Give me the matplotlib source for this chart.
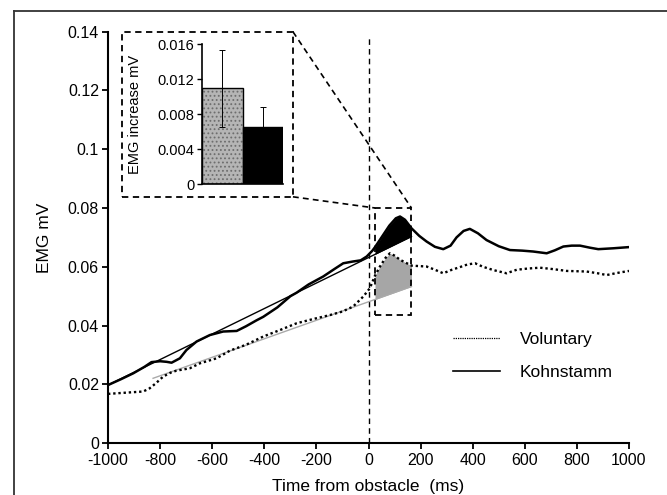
import matplotlib
matplotlib.use("Agg")
import matplotlib.pyplot as plt
import matplotlib.patches as mpatches
from matplotlib.lines import Line2D
import numpy as np

plt.rcParams.update({
    "font.family": ["Liberation Sans", "DejaVu Sans"],
    "font.size": 11,
    "hatch.linewidth": 0.8,
})

# Kohnstamm (solid) average EMG trace
koh_t = [-1000, -950, -903, -860, -833, -800, -775, -756, -724, -699, -660, -609,
         -558, -506, -470, -430, -404, -350, -300, -276, -230, -174, -130,
         -97, -60, -30, -7, 15, 25, 44, 80, 105, 121, 140, 165, 195, 223, 255,
         287, 315, 338, 365, 389, 420, 453, 500, 543, 590, 632, 684, 715, 748,
         780, 812, 850, 882, 940, 1000]
koh_emg = [0.0198, 0.0218, 0.0238, 0.0260, 0.0276, 0.0279, 0.0277, 0.0274, 0.0289,
           0.0317, 0.0346, 0.0368, 0.0380, 0.0382, 0.0398, 0.0418, 0.0430,
           0.0462, 0.0500, 0.0512, 0.0540, 0.0567, 0.0593, 0.0612, 0.0618, 0.0622,
           0.0635, 0.0655, 0.0667, 0.0692, 0.0740, 0.0765, 0.0771, 0.0760, 0.0731,
           0.0705, 0.0686, 0.0668, 0.0660, 0.0672, 0.0700, 0.0722, 0.0729, 0.0714,
           0.0691, 0.0670, 0.0657, 0.0655, 0.0652, 0.0646, 0.0656, 0.0669, 0.0672,
           0.0672, 0.0665, 0.0660, 0.0663, 0.0667]

# Voluntary (dotted) average EMG trace
vol_t = [-1000, -950, -900, -865, -840, -815, -788, -760, -737, -686, -647, -583,
         -532, -470, -404, -340, -276, -210, -148, -100, -59, -20, 5, 25, 44, 65,
         82, 100, 121, 165, 223, 255, 287, 320, 351, 380, 409, 440, 479, 530, 569,
         610, 658, 710, 761, 837, 880, 914, 960, 1000]
vol_emg = [0.0168, 0.0171, 0.0174, 0.0176, 0.0187, 0.0205, 0.0227, 0.0240, 0.0247,
           0.0255, 0.0272, 0.0289, 0.0315, 0.0335, 0.0363, 0.0385, 0.0408, 0.0423,
           0.0436, 0.0448, 0.0465, 0.0499, 0.0527, 0.0570, 0.0601, 0.0630, 0.0646,
           0.0638, 0.0624, 0.0604, 0.0601, 0.0590, 0.0578, 0.0590, 0.0599, 0.0608,
           0.0612, 0.0600, 0.0589, 0.0578, 0.0590, 0.0594, 0.0597, 0.0592, 0.0586,
           0.0584, 0.0578, 0.0572, 0.0580, 0.0586]

# linear baseline fits (end points)
koh_fit_t = [-1000, 165]
koh_fit_emg = [0.0198, 0.0703]
vol_fit_t = [-827, 165]
vol_fit_emg = [0.0221, 0.0533]

# window used for the increase measure
win = (25, 165)

# inset bars: mean EMG increase and error
inset_labels = ["Voluntary", "Kohnstamm"]
inset_mean = [0.0110, 0.0065]
inset_err = [0.0044, 0.0023]

fig = plt.figure(figsize=(6.67, 4.95), dpi=100)

# outer frame (only left and top edges visible)
fig.add_artist(Line2D([14/667, 14/667], [0, 1 - 11/495], transform=fig.transFigure,
                      color="#333333", lw=1.3))
fig.add_artist(Line2D([14/667, 1], [1 - 11/495, 1 - 11/495], transform=fig.transFigure,
                      color="#333333", lw=1.3))

ax = fig.add_axes([108/667, 1 - 443.3/495, 521/667, 411.8/495])
ax.set_xlim(-1000, 1000)
ax.set_ylim(0, 0.14)
for s in ["top", "right"]:
    ax.spines[s].set_visible(False)
for s in ["left", "bottom"]:
    ax.spines[s].set_linewidth(1.5)
ax.tick_params(direction="out", length=4.5, width=1.3, labelsize=11.5)
ax.tick_params(axis="x", pad=2.5)
ax.tick_params(axis="y", pad=2)

xt = np.arange(-1000, 1001, 200)
ax.set_xticks(xt)
ax.set_xticklabels([str(v) for v in xt])
yt = [0, 0.02, 0.04, 0.06, 0.08, 0.1, 0.12, 0.14]
ax.set_yticks(yt)
ax.set_yticklabels(["0", "0.02", "0.04", "0.06", "0.08", "0.1", "0.12", "0.14"])

ax.set_xlabel("Time from obstacle  (ms)", fontsize=12.5, va="top")
ax.xaxis.set_label_coords(0.5, -0.087)
ax.set_ylabel("EMG mV", fontsize=12.5)
ax.yaxis.set_label_coords(-0.108, 0.5)

# obstacle onset
ax.plot([0, 0], [0, 0.1379], color="black", lw=1.0, ls=(0, (4, 3)))

# baseline fits
ax.plot(koh_fit_t, koh_fit_emg, color="black", lw=1.0)
ax.plot(vol_fit_t, vol_fit_emg, color="#aaaaaa", lw=1.0)

# shaded increase above baseline
kt = np.array(koh_t)
ke = np.array(koh_emg)
m = (kt >= win[0]) & (kt <= win[1])
ax.fill_between(kt[m], ke[m], np.interp(kt[m], koh_fit_t, koh_fit_emg),
                color="black", lw=0)
vt = np.array(vol_t)
ve = np.array(vol_emg)
m = (vt >= win[0]) & (vt <= win[1])
ax.fill_between(vt[m], ve[m], np.interp(vt[m], vol_fit_t, vol_fit_emg),
                color="#a6a6a6", lw=0)

lv, = ax.plot(vol_t, vol_emg, color="black", lw=1.7, ls=(0, (1, 1.2)))
lk, = ax.plot(koh_t, koh_emg, color="black", lw=1.8, solid_joinstyle="round")

h_v = Line2D([], [], color="black", lw=0.9, ls=(0, (1, 0.8)))
h_k = Line2D([], [], color="black", lw=1.2)
ax.legend([h_v, h_k], inset_labels, loc="upper left", bbox_to_anchor=(0.662, 0.27),
          frameon=False, fontsize=12.5, handlelength=2.7, handletextpad=1.15,
          labelspacing=1.0, borderpad=0, borderaxespad=0)

# zoom window and inset frame
dash = (0, (3.5, 2.5))
ax.add_patch(mpatches.Rectangle((win[0], 0.0435), win[1] - win[0], 0.080 - 0.0435,
                                fill=False, ec="black", lw=1.3, ls=dash))
ax.add_patch(mpatches.Rectangle((-947, 0.0838), 657, 0.0561, fill=False, ec="black",
                                lw=1.3, ls=dash, clip_on=False))
ax.plot([-290, win[1]], [0.1399, 0.080], color="black", lw=1.2, ls=dash, clip_on=False)
ax.plot([-290, win[0]], [0.0838, 0.080], color="black", lw=1.2, ls=dash, clip_on=False)

# inset bar chart
ins = fig.add_axes([202/667, 1 - 184.3/495, 81/667, 140/495])
ins.set_xlim(-0.5, 1.5)
ins.set_ylim(0, 0.016)
for s in ["top", "right"]:
    ins.spines[s].set_visible(False)
for s in ["left", "bottom"]:
    ins.spines[s].set_linewidth(1.2)
x = np.arange(len(inset_mean))
ins.bar(x[0], inset_mean[0], width=1.0, color="#b5b5b5", edgecolor="#6e6e6e",
        hatch="....", lw=0)
ins.bar(x[1], inset_mean[1], width=1.0, color="black", lw=0)
ins.bar(x, inset_mean, width=1.0, fill=False, edgecolor="black", lw=1.0)
ins.errorbar(x, inset_mean, yerr=inset_err, fmt="none", ecolor="black",
             elinewidth=0.7, capsize=2.5, capthick=0.7)
ins.set_xticks([])
ins.set_yticks([0, 0.004, 0.008, 0.012, 0.016])
ins.set_yticklabels(["0", "0.004", "0.008", "0.012", "0.016"])
ins.tick_params(axis="y", direction="out", length=3.5, width=1.0, labelsize=10.5, pad=2)
ins.set_ylabel("EMG increase mV", fontsize=10.5)
ins.yaxis.set_label_coords(-0.74, 0.5)

fig.savefig("out.png", dpi=100)
